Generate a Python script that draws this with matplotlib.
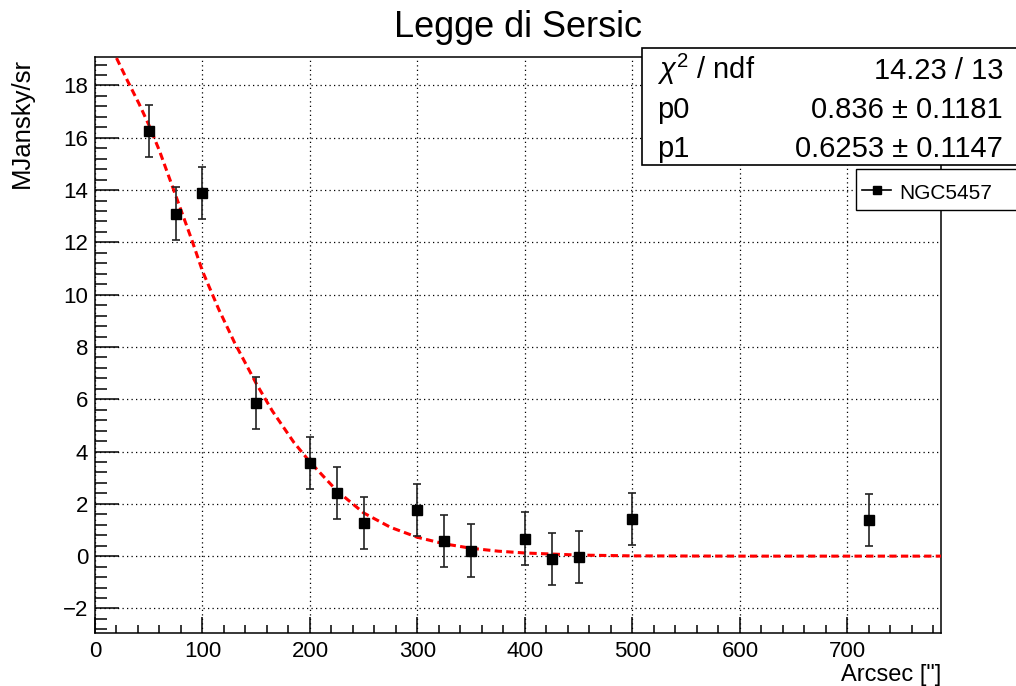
import matplotlib
matplotlib.use("Agg")
import matplotlib.pyplot as plt
from matplotlib.patches import Rectangle
from matplotlib.lines import Line2D
import numpy as np

plt.rcParams['font.family'] = ['Liberation Sans', 'DejaVu Sans']
plt.rcParams['mathtext.fontset'] = 'custom'
plt.rcParams['mathtext.rm'] = 'Liberation Sans'
plt.rcParams['mathtext.it'] = 'Liberation Sans:italic'

# data points (NGC5457)
arcsec = [50, 75, 100, 150, 200, 225, 250, 300, 325, 350, 400, 425, 450, 500, 720]
flux = [16.25, 13.1, 13.9, 5.87, 3.56, 2.42, 1.28, 1.77, 0.59, 0.21, 0.67, -0.1, -0.02, 1.43, 1.38]
flux_err = [1.0] * 15

# fitted curve
fit_x = [20, 30, 41, 50, 60, 75, 90, 100, 115, 130, 150, 165, 185, 200, 225,
         250, 275, 300, 325, 350, 375, 400, 450, 500, 600, 787]
fit_y = [19.05, 18.2, 17.3, 16.5, 15.5, 13.8, 12.1, 10.9, 9.45, 8.15, 6.6, 5.55, 4.35, 3.6, 2.5,
         1.65, 1.1, 0.72, 0.47, 0.3, 0.19, 0.12, 0.04, 0.01, 0.0, 0.0]

stats_labels = [r'$\chi^{2}$ / ndf', 'p0', 'p1']
stats_values = ['14.23 / 13', u'0.836 \u00b1 0.1181', u'0.6253 \u00b1 0.1147']

W, H = 1016, 686
fig = plt.figure(figsize=(W / 100, H / 100), dpi=100)
ax = fig.add_axes([95 / W, 1 - 633 / H, (941 - 95) / W, (633 - 57) / H])

def fx(px):
    return px / W

def fy(py):
    return 1 - py / H

ax.set_xlim(0, 787)
ax.set_ylim(-2.94, 19.09)

ax.grid(True, color='black', linestyle=(0, (1, 2.6)), linewidth=0.9)
ax.set_xticks(np.arange(0, 701, 100))
ax.set_yticks(np.arange(-2, 19, 2))
ax.set_xticks(np.arange(0, 787, 20), minor=True)
ax.set_yticks(np.arange(-2.8, 19.1, 0.4), minor=True)
ax.tick_params(axis='both', which='both', direction='in', width=1.1, labelsize=16,
               top=False, right=False)
ax.tick_params(axis='x', which='major', length=11.5, pad=5.5)
ax.tick_params(axis='x', which='minor', length=5.8)
ax.tick_params(axis='y', which='major', length=17, pad=5)
ax.tick_params(axis='y', which='minor', length=8.6)
ax.yaxis.set_major_formatter(matplotlib.ticker.FuncFormatter(
    lambda v, p: u'\u2212%d' % abs(v) if v < 0 else '%d' % v))
for s in ax.spines.values():
    s.set_linewidth(1.1)

ax.plot(fit_x, fit_y, color='red', linewidth=2.2, linestyle=(0, (2.4, 1.4)), zorder=3)
ax.errorbar(arcsec, flux, yerr=flux_err, fmt='s', color='black', ecolor='#222222',
            markersize=7.2, elinewidth=1.2, capsize=2.6, capthick=1.2, zorder=4)

fig.text(fx(518), fy(37), 'Legge di Sersic', ha='center', va='baseline', fontsize=26)
fig.text(fx(22), fy(58), 'MJansky/sr', rotation=90, ha='center', va='top', fontsize=18.5)
fig.text(fx(941), fy(681), 'Arcsec ["]', ha='right', va='baseline', fontsize=17)

# stats box
fig.add_artist(Rectangle((fx(641.5), fy(165)), (1030 - 641.5) / W, 117 / H,
                         transform=fig.transFigure, facecolor='white',
                         edgecolor='black', linewidth=1.2, zorder=10))
for i, (lab, val) in enumerate(zip(stats_labels, stats_values)):
    base = 79 + 39 * i
    fig.text(fx(657), fy(base), lab, ha='left', va='baseline', fontsize=21, zorder=11)
    fig.text(fx(1003), fy(base), val, ha='right', va='baseline', fontsize=21, zorder=11)

# legend box
fig.add_artist(Rectangle((fx(856), fy(210)), (1030 - 856) / W, 41 / H,
                         transform=fig.transFigure, facecolor='white',
                         edgecolor='black', linewidth=1.0, zorder=10))
fig.add_artist(Line2D([fx(862), fx(891)], [fy(190), fy(190)], transform=fig.transFigure,
                      color='black', linewidth=1.2, zorder=11))
fig.add_artist(Line2D([fx(876.5)], [fy(190)], transform=fig.transFigure,
                      color='black', marker='s', markersize=5.5, linestyle='none', zorder=12))
fig.text(fx(899), fy(199), 'NGC5457', ha='left', va='baseline', fontsize=15, zorder=11)

fig.savefig('out.png', dpi=100)
